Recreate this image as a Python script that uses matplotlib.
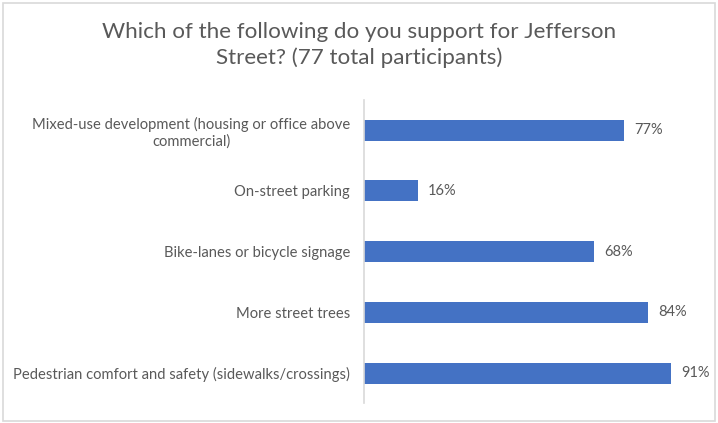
import matplotlib.pyplot as plt
from matplotlib.patches import Rectangle

categories = ["Mixed-use development (housing or office above\ncommercial)",
              "On-street parking",
              "Bike-lanes or bicycle signage",
              "More street trees",
              "Pedestrian comfort and safety (sidewalks/crossings)"]
values = [77, 16, 68, 84, 91]
title = "Which of the following do you support for Jefferson\nStreet? (77 total participants)"

plt.rcParams['font.family'] = ['Lato', 'DejaVu Sans']
gray = '#595959'

fig = plt.figure(figsize=(7.18, 4.23), dpi=100)
ax = fig.add_axes([0.507, 0.0463, 0.4703, 0.718])

ypos = list(range(len(categories)))
ax.barh(ypos, values, height=0.345, color='#4472C4')
for y, v in zip(ypos, values):
    ax.text(v + 3, y, f"{v}%", va='center', ha='left', fontsize=10.5, color=gray)

ax.set_yticks(ypos)
ax.set_yticklabels(categories, fontsize=10.6, color=gray, multialignment='center')
ax.tick_params(axis='y', length=0, pad=10)
ax.set_ylim(len(categories) - 0.5, -0.5)
ax.set_xlim(0, 100)
ax.set_xticks([])
for s in ['top', 'right', 'bottom']:
    ax.spines[s].set_visible(False)
ax.spines['left'].set_color('#d9d9d9')
ax.spines['left'].set_linewidth(1.2)

fig.text(0.5, 0.893, title, ha='center', va='center', fontsize=16.1, color=gray, linespacing=1.3)

fig.patches.append(Rectangle((0.004, 0.004), 0.992, 0.988, transform=fig.transFigure,
                             fill=False, edgecolor='#d9d9d9', linewidth=1.2))

fig.savefig("out.png", dpi=100, facecolor='white')
